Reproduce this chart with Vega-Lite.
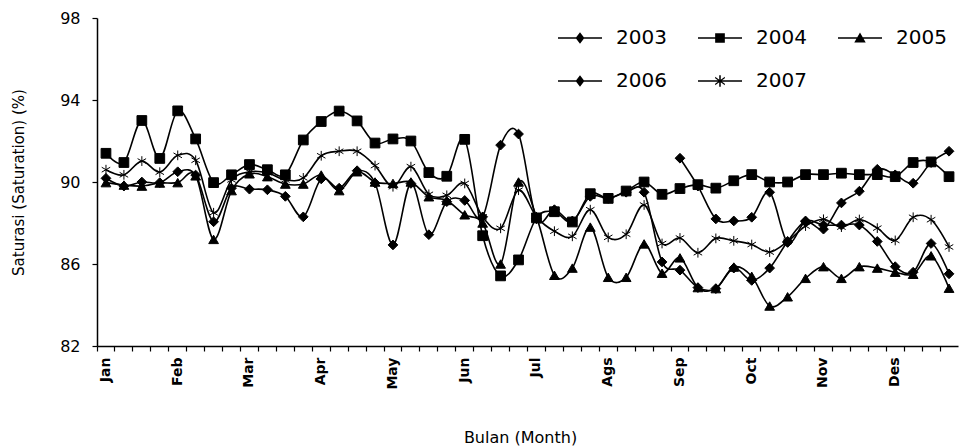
{
  "$schema": "https://vega.github.io/schema/vega-lite/v6.json",
  "autosize": "none",
  "width": 861,
  "height": 328,
  "padding": {"left": 97, "top": 18, "right": 2, "bottom": 101},
  "background": "white",
  "config": {
    "view": {"stroke": null},
    "font": "DejaVu Sans"
  },
  "data": {
    "values": [
      {"week":1,"2004":91.4,"2005":89.97,"2006":90.18,"2007":90.6},
      {"week":2,"2004":90.95,"2005":89.85,"2006":89.8,"2007":90.35},
      {"week":3,"2004":93.0,"2005":89.8,"2006":90.0,"2007":91.02},
      {"week":4,"2004":91.15,"2005":89.95,"2006":89.97,"2007":90.48},
      {"week":5,"2004":93.47,"2005":89.97,"2006":90.5,"2007":91.3},
      {"week":6,"2004":92.1,"2005":90.3,"2006":90.34,"2007":91.06},
      {"week":7,"2004":89.97,"2005":87.2,"2006":88.06,"2007":88.5},
      {"week":8,"2004":90.35,"2005":89.58,"2006":89.7,"2007":90.1},
      {"week":9,"2004":90.85,"2005":90.4,"2006":89.65,"2007":90.5},
      {"week":10,"2004":90.6,"2005":90.26,"2006":89.62,"2007":90.45},
      {"week":11,"2004":90.35,"2005":89.9,"2006":89.3,"2007":90.1},
      {"week":12,"2004":92.05,"2005":89.9,"2006":88.3,"2007":90.2},
      {"week":13,"2004":92.95,"2005":90.34,"2006":90.15,"2007":91.28},
      {"week":14,"2004":93.46,"2005":89.58,"2006":89.7,"2007":91.5},
      {"week":15,"2004":92.98,"2005":90.5,"2006":90.55,"2007":91.5},
      {"week":16,"2004":91.9,"2005":90.0,"2006":89.95,"2007":90.8},
      {"week":17,"2004":92.1,"2005":89.93,"2006":86.93,"2007":89.77},
      {"week":18,"2004":92.0,"2005":90.0,"2006":89.93,"2007":90.75},
      {"week":19,"2004":90.46,"2005":89.28,"2006":87.43,"2007":89.4},
      {"week":20,"2004":90.28,"2005":89.1,"2006":89.04,"2007":89.35},
      {"week":21,"2004":92.08,"2005":88.4,"2006":89.1,"2007":89.93},
      {"week":22,"2004":87.38,"2005":88.0,"2006":88.3,"2007":88.3},
      {"week":23,"2004":85.42,"2005":86.0,"2006":91.8,"2007":87.74},
      {"week":24,"2004":86.2,"2005":90.0,"2006":92.34,"2007":89.6},
      {"week":25,"2004":88.25,"2005":88.3,"2006":88.2,"2007":88.3},
      {"week":26,"2004":88.55,"2005":85.45,"2006":88.65,"2007":87.6},
      {"week":27,"2004":88.05,"2005":85.8,"2006":88.1,"2007":87.35},
      {"week":28,"2004":89.43,"2005":87.8,"2006":89.3,"2007":88.65},
      {"week":29,"2004":89.2,"2005":85.35,"2006":89.2,"2007":87.3},
      {"week":30,"2004":89.56,"2005":85.35,"2006":89.5,"2007":87.45},
      {"week":31,"2004":90.0,"2005":86.98,"2006":89.5,"2007":88.88},
      {"week":32,"2004":89.4,"2005":85.55,"2006":86.1,"2007":87.0},
      {"week":33,"2003":91.16,"2004":89.68,"2005":86.3,"2006":85.7,"2007":87.27},
      {"week":34,"2003":89.8,"2004":89.87,"2005":84.85,"2006":84.85,"2007":86.55},
      {"week":35,"2003":88.2,"2004":89.7,"2005":84.8,"2006":84.8,"2007":87.25},
      {"week":36,"2003":88.1,"2004":90.06,"2005":85.85,"2006":85.8,"2007":87.13},
      {"week":37,"2003":88.28,"2004":90.36,"2005":85.4,"2006":85.2,"2007":86.95},
      {"week":38,"2003":89.5,"2004":90.0,"2005":83.95,"2006":85.8,"2007":86.58},
      {"week":39,"2003":87.05,"2004":90.0,"2005":84.4,"2006":87.1,"2007":87.1},
      {"week":40,"2003":88.07,"2004":90.36,"2005":85.3,"2006":88.1,"2007":87.85},
      {"week":41,"2003":87.7,"2004":90.36,"2005":85.87,"2006":87.9,"2007":88.18},
      {"week":42,"2003":88.98,"2004":90.43,"2005":85.3,"2006":87.9,"2007":87.8},
      {"week":43,"2003":89.55,"2004":90.36,"2005":85.87,"2006":87.9,"2007":88.17},
      {"week":44,"2003":90.62,"2004":90.36,"2005":85.8,"2006":87.1,"2007":87.75},
      {"week":45,"2003":90.35,"2004":90.26,"2005":85.6,"2006":85.87,"2007":87.15},
      {"week":46,"2003":89.94,"2004":90.95,"2005":85.5,"2006":85.6,"2007":88.28},
      {"week":47,"2003":90.95,"2004":90.98,"2005":86.4,"2006":87.0,"2007":88.16},
      {"week":48,"2003":91.5,"2004":90.26,"2005":84.82,"2006":85.52,"2007":86.83}
    ]
  },
  "transform": [
    {"fold": ["2003", "2004", "2005", "2006", "2007"], "as": ["year", "sat"]},
    {"filter": "isValid(datum.sat)"}
  ],
  "encoding": {
    "x": {
      "field": "week",
      "type": "ordinal",
      "scale": {"type": "band", "paddingInner": 0, "paddingOuter": 0},
      "axis": {
        "bandPosition": 0,
        "labelOffset": 0,
        "labelAngle": 270,
        "labelAlign": "right",
        "labelBaseline": "middle",
        "labelFont": "DejaVu Sans",
        "labelFontWeight": "bold",
        "labelFontSize": 14,
        "labelColor": "black",
        "labelPadding": 6,
        "labelOverlap": false,
        "labelExpr": "(datum.value - 1) % 4 == 0 ? ['Jan','Feb','Mar','Apr','May','Jun','Jul','Ags','Sep','Oct','Nov','Des'][floor((datum.value - 1) / 4)] : ''",
        "tickSize": 5,
        "tickColor": "black",
        "tickWidth": 1.2,
        "domainColor": "black",
        "domainWidth": 1.5,
        "title": "Bulan (Month)",
        "titleFont": "DejaVu Sans",
        "titleFontWeight": "normal",
        "titleFontSize": 16,
        "titleColor": "black",
        "titleX": 423,
        "titleY": 91,
        "titleBaseline": "middle"
      }
    },
    "y": {
      "field": "sat",
      "type": "quantitative",
      "scale": {"domain": [82, 98], "nice": false, "zero": false},
      "axis": {
        "values": [82, 86, 90, 94, 98],
        "grid": false,
        "tickSize": 5,
        "tickColor": "black",
        "tickWidth": 1.2,
        "domainColor": "black",
        "domainWidth": 1.5,
        "labelFont": "DejaVu Sans",
        "labelFontSize": 16,
        "labelColor": "black",
        "labelPadding": 12,
        "title": "Saturasi (Saturation) (%)",
        "titleFont": "DejaVu Sans",
        "titleFontWeight": "normal",
        "titleFontSize": 15,
        "titleColor": "black",
        "titleX": -79,
        "titleBaseline": "middle"
      }
    }
  },
  "layer": [
    {
      "mark": {"type": "line", "interpolate": "cardinal", "color": "black", "strokeWidth": 1.6},
      "encoding": {"detail": {"field": "year"}}
    },
    {
      "mark": {"type": "point", "filled": true, "fill": "black", "stroke": "black", "strokeWidth": 1, "opacity": 1, "size": 95},
      "encoding": {
        "shape": {
          "field": "year",
          "type": "nominal",
          "scale": {
            "domain": ["2003", "2004", "2005", "2006", "2007"],
            "range": ["diamond", "square", "triangle-up", "diamond", "M0,-1V1M-0.87,-0.5L0.87,0.5M-0.87,0.5L0.87,-0.5"]
          },
          "legend": null
        }
      }
    },
    {
      "transform": [{"filter": "datum.week > 1000"}],
      "mark": {"type": "point", "filled": true, "fill": "black", "strokeWidth": 0, "opacity": 1},
      "encoding": {
        "shape": {
          "field": "year",
          "type": "nominal",
          "scale": {
            "domain": ["2003", "2004", "2005", "2006", "2007"],
            "range": [
              "M-1,-0.035H1V0.035H-1ZM0,-0.26L0.2,0L0,0.26L-0.2,0Z",
              "M-1,-0.035H1V0.035H-1ZM-0.22,-0.22H0.22V0.22H-0.22Z",
              "M-1,-0.035H1V0.035H-1ZM0,-0.25L0.26,0.2H-0.26Z",
              "M-1,-0.035H1V0.035H-1ZM0,-0.26L0.2,0L0,0.26L-0.2,0Z",
              "M-1,-0.035H1V0.035H-1ZM-0.035,-0.26H0.035V0.26H-0.035ZM-0.22,-0.19L0.22,0.13V0.19L-0.22,-0.13ZM-0.22,0.13L0.22,-0.19V-0.13L-0.22,0.19Z"
            ]
          },
          "legend": {
            "title": null,
            "orient": "none",
            "legendX": 461,
            "legendY": -2,
            "direction": "horizontal",
            "columns": 3,
            "padding": 0,
            "columnPadding": 31,
            "rowPadding": 11,
            "symbolSize": 1936,
            "symbolFillColor": "black",
            "symbolStrokeWidth": 0,
            "symbolOpacity": 1,
            "labelFont": "DejaVu Sans",
            "labelFontSize": 20,
            "labelColor": "black",
            "labelOffset": 14
          }
        }
      }
    }
  ],
  "resolve": {"scale": {"shape": "independent"}, "legend": {"shape": "independent"}}
}
